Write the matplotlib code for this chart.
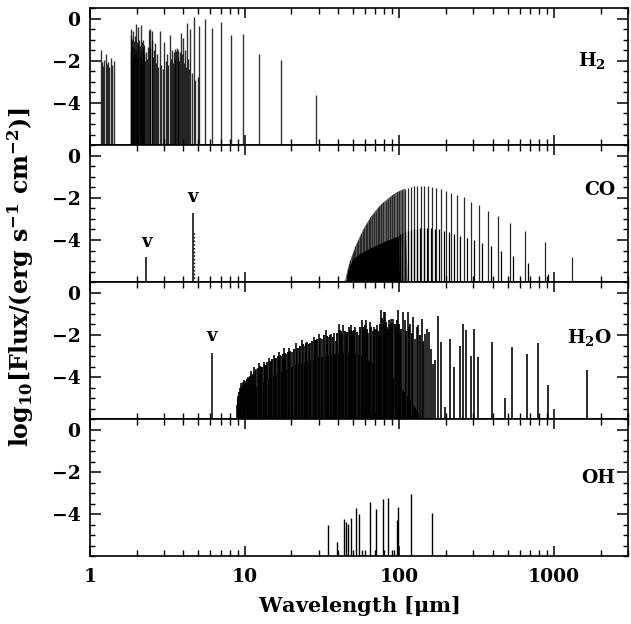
"""Line spectra of H2, CO, H2O and OH: log flux against wavelength."""

import matplotlib
matplotlib.use("Agg")
import matplotlib.pyplot as plt
from matplotlib.ticker import MultipleLocator, LogLocator, NullFormatter

BASE = -6.0

# H2 lines (wavelength um, log10 flux)
h2_wave = [1.17, 1.19, 1.21, 1.23, 1.26, 1.28, 1.31, 1.33, 1.36, 1.39, 1.43,
           1.83, 1.84, 1.85, 1.86, 1.875, 1.89, 1.90, 1.915, 1.93, 1.945, 1.957, 1.97,
           1.985, 2.00, 2.015, 2.03, 2.04, 2.055, 2.07, 2.09, 2.11, 2.125, 2.14, 2.155,
           2.17, 2.19, 2.20, 2.22, 2.24, 2.26, 2.29, 2.32, 2.36, 2.40, 2.43, 2.46, 2.50,
           2.52, 2.56, 2.60, 2.62, 2.66, 2.71, 2.76, 2.82, 2.88,
           2.95, 3.03, 3.08, 3.13, 3.19, 3.27, 3.33, 3.38, 3.43, 3.48, 3.52, 3.56, 3.60,
           3.64, 3.68, 3.73, 3.78, 3.83, 3.89, 3.94, 3.98, 4.04, 4.10, 4.17, 4.23, 4.30,
           4.38, 4.46, 4.55, 4.68, 4.80, 4.97, 5.10, 5.54, 6.14, 7.02, 8.17, 9.78,
           12.4, 17.1, 28.7]
h2_flux = [-1.50, -2.05, -2.26, -1.95, -1.67, -2.15, -2.05, -2.30, -1.86, -2.20, -2.00,
           -0.85, -1.60, -0.49, -1.30, -0.95, -1.80, -0.60, -1.40, -1.05, -1.70, -0.85, -0.28,
           -1.50, -1.10, -1.90, -1.20, -0.40, -1.60, -1.00, -1.80, -1.30, -0.33, -1.50, -1.10,
           -1.90, -1.40, -1.00, -1.70, -1.25, -2.00, -1.60, -1.90, -1.35, -0.55, -0.49, -1.40, -1.00,
           -0.60, -1.80, -1.50, -1.18, -2.10, -1.70, -2.30, -0.60, -2.20,
           -2.40, -1.12, -2.00, -1.70, -2.20, -0.76, -1.90, -1.50, -2.10, -1.60, -1.44, -1.90, -1.55,
           -1.39, -1.80, -1.50, -2.00, -1.60, -0.68, -1.70, -0.92, -2.10, -1.50, -2.30, -0.20, -1.90,
           -2.40, -0.49, -2.60, 0.05, -2.90, -2.77, -0.36, 0.00, -0.45, -0.17, -0.80, -0.73,
           -1.70, -1.98, -3.63]

# 12CO rotational ladder
co_wave = [1300.4, 866.9, 650.2, 520.2, 433.5, 371.5, 325.1, 289.0, 260.1, 236.4,
           216.7, 200.1, 185.8, 173.4, 162.6, 153.0, 144.5, 136.9, 130.0, 123.8,
           118.2, 113.1, 108.4, 104.0, 100.0, 96.3, 92.9, 89.7, 86.7, 83.9,
           81.3, 78.8, 76.5, 74.3, 72.2, 70.3, 68.4, 66.7, 65.0, 63.4,
           61.9, 60.5, 59.1, 57.8, 56.5, 55.3, 54.2, 53.1, 52.0, 51.0,
           50.0, 49.1, 48.2, 47.3, 46.4, 45.6, 44.8]
co_flux = [-4.80, -4.10, -3.55, -3.20, -2.88, -2.60, -2.36, -2.20, -1.98, -1.87,
           -1.78, -1.68, -1.58, -1.52, -1.47, -1.44, -1.43, -1.43, -1.44, -1.46,
           -1.49, -1.52, -1.56, -1.61, -1.67, -1.73, -1.80, -1.88, -1.96, -2.05,
           -2.13, -2.21, -2.30, -2.40, -2.50, -2.60, -2.70, -2.82, -2.93, -3.05,
           -3.17, -3.29, -3.42, -3.55, -3.70, -3.85, -4.00, -4.15, -4.30, -4.45,
           -4.62, -4.78, -4.95, -5.15, -5.35, -5.60, -5.85]

# 13CO ladder (weaker)
co13_wave = [906.8, 680.1, 544.1, 453.4, 388.6, 340.1, 302.3, 272.0, 247.3, 226.7,
             209.3, 194.3, 181.4, 170.0, 160.0, 151.1, 143.2, 136.0, 129.5, 123.7,
             118.3, 113.4, 108.8, 104.6, 100.8, 97.2, 93.8, 90.7, 87.8, 85.0,
             82.4, 80.0, 77.7, 75.6, 73.5, 71.6, 69.8, 68.0, 66.4, 64.8,
             63.3, 61.8, 60.4, 59.1, 57.9, 56.7]
co13_flux = [-5.60, -5.10, -4.75, -4.50, -4.30, -4.15, -4.00, -3.90, -3.80, -3.70,
             -3.62, -3.56, -3.50, -3.47, -3.45, -3.44, -3.44, -3.45, -3.47, -3.50,
             -3.54, -3.56, -3.60, -3.66, -3.72, -3.80, -3.90, -3.96, -4.02, -4.08,
             -4.15, -4.22, -4.30, -4.38, -4.45, -4.55, -4.68, -4.80, -4.92, -5.05,
             -5.18, -5.30, -5.42, -5.55, -5.70, -5.85]

# shaded part of the 12CO dome, where the lines blend
co_shade_wave = [44.8, 46.4, 48.2, 50.0, 52.0, 54.2, 56.5, 59.1, 61.9, 65.0, 68.4,
                 72.2, 76.5, 81.3, 86.7, 92.9, 100.0, 108.4, 113.1]
co_shade_top = [-5.85, -5.35, -4.95, -4.62, -4.30, -4.00, -3.70, -3.42, -3.17, -2.93, -2.70,
                -2.50, -2.30, -2.13, -1.96, -1.80, -1.67, -1.56, -6.0]

# dark core of the CO band
co_core_wave = [44.8, 47.0, 50.0, 55.0, 60.0, 66.0, 73.0, 80.0, 88.0, 94.0, 98.0, 100.0]
co_core_top = [-6.0, -5.3, -4.9, -4.65, -4.5, -4.35, -4.2, -4.05, -3.95, -3.85, -3.85, -6.0]

# CO vibrational lines
co_vib_wave = [2.31, 4.62]
co_vib_flux = [-4.79, -2.72]
co_vib_dot_wave = [4.72]
co_vib_dot_flux = [-3.6]

# H2O lines, strong
h2o_wave = [8.9, 9.1, 9.3, 9.45, 9.7, 9.9, 10.2, 10.45, 10.7, 10.96, 11.3, 11.55, 11.9,
            12.4, 12.8, 13.3, 13.8, 14.3, 14.8, 15.4, 16.0, 16.7, 17.3, 18.0, 18.6, 19.3,
            20.2, 21.3, 22.3, 23.5, 24.4, 25.3, 26.5, 27.9, 29.0, 30.1, 31.5, 33.3, 34.8,
            36.2, 38.0, 39.0, 40.4, 42.0, 43.5, 45.0, 47.0, 48.5, 50.0, 52.0, 54.5, 57.0,
            59.0, 61.0, 63.0, 64.7, 67.0, 69.0, 71.5, 73.5, 75.8, 78.9, 80.9, 83.0, 85.0,
            88.5, 91.5, 94.5, 98.6, 101, 106, 108, 113, 117, 123, 126, 129, 132, 139,
            146, 150, 155, 161, 166, 170, 178, 187, 198, 212, 226, 245, 257, 271, 290,
            303, 322, 398, 483, 538, 669, 790, 918, 1635]
h2o_flux = [-5.30, -4.90, -4.50, -4.30, -4.25, -4.14, -4.20, -3.97, -4.05, -3.73, -3.85, -3.50, -3.60,
            -3.35, -3.50, -3.26, -3.40, -3.10, -3.25, -2.96, -3.10, -2.80, -3.00, -2.64, -2.90, -2.64,
            -2.80, -2.40, -2.60, -2.25, -2.50, -2.33, -2.40, -2.09, -2.30, -1.94, -2.20, -1.78, -2.10,
            -1.94, -1.90, -2.30, -1.46, -1.80, -1.54, -2.00, -1.62, -1.54, -1.90, -1.62, -2.00, -1.31,
            -1.70, -1.31, -1.90, -1.38, -1.80, -1.62, -1.54, -2.00, -0.83, -0.93, -0.91, -1.60, -1.31,
            -1.24, -1.23, -1.60, -0.83, -1.90, -0.91, -1.30, -0.91, -1.48, -1.16, -2.20, -1.64, -1.54, -1.24,
            -1.95, -1.70, -1.86, -2.66, -3.36, -3.20, -1.10, -2.34, -5.40, -2.20, -3.52, -2.50, -1.50, -1.75, -3.00,
            -1.71, -3.05, -2.34, -5.00, -2.58, -2.89, -2.37, -4.39, -3.68]

# H2O lines, weaker ones filling the forest
h2o_weak_wave = [9.0, 9.2, 9.4, 9.6, 9.8, 10.05, 10.3, 10.6, 10.85, 11.1, 11.4, 11.7, 12.1,
                 12.6, 13.0, 13.5, 14.0, 14.5, 15.1, 15.7, 16.3, 17.0, 17.6, 18.3, 19.0,
                 19.7, 20.7, 21.8, 22.9, 23.9, 24.8, 25.9, 27.2, 28.4, 29.5, 30.8, 32.4,
                 34.0, 35.5, 37.1, 39.7, 41.2, 42.7, 44.2, 46.0, 47.7, 49.2, 51.0, 53.2,
                 55.7, 58.0, 60.0, 62.0, 65.8, 68.0, 70.2, 72.5, 74.6, 77.3, 79.9, 82.0,
                 84.0, 86.7, 90.0, 93.0, 96.5, 100, 103, 110, 115, 120, 135, 143]
h2o_weak_flux = [-5.00, -4.70, -4.60, -4.40, -4.35, -4.30, -4.10, -4.15, -3.95, -3.90, -3.75, -3.70, -3.55,
                 -3.45, -3.50, -3.40, -3.30, -3.30, -3.15, -3.10, -3.00, -2.95, -2.90, -2.85, -2.80,
                 -2.75, -2.65, -2.60, -2.50, -2.45, -2.40, -2.45, -2.30, -2.25, -2.20, -2.15, -2.00,
                 -2.05, -2.00, -2.10, -1.90, -1.75, -1.90, -1.80, -1.85, -1.75, -1.80, -1.75, -1.85,
                 -1.60, -1.60, -1.55, -1.70, -1.60, -1.75, -1.70, -1.80, -1.50, -1.20, -1.30, -1.40,
                 -1.70, -1.50, -1.45, -1.50, -1.30, -1.50, -1.70, -1.80, -1.60, -1.90, -2.00, -2.30]

# solid black base of the H2O forest
h2o_fill_wave = [8.8, 9.0, 9.5, 10, 11, 12, 14, 16, 18, 20, 23, 26, 30, 35, 40, 45,
                 50, 55, 60, 70, 80, 90, 100, 110, 120, 130, 140]
h2o_fill_top = [-6.0, -5.6, -5.15, -4.95, -4.7, -4.4, -4.1, -3.85, -3.65, -3.5, -3.3, -3.2,
                -3.05, -2.95, -2.85, -2.8, -2.85, -2.95, -3.1, -3.4, -3.7, -4.0, -4.4, -4.8,
                -5.2, -5.6, -6.0]

h2o_vib_wave = [6.12]
h2o_vib_flux = [-2.85]

# OH lines
oh_wave = [34.4, 39.5, 43.6, 45.2, 46.6, 48.9, 52.7, 55.0, 57.5, 65.0, 70.6, 78.3,
           84.2, 92.0, 96.3, 98.4, 118.6, 162.0]
oh_flux = [-4.52, -5.30, -4.20, -4.36, -4.44, -4.17, -3.70, -3.97, -5.70, -3.42, -3.73, -3.29,
           -3.23, -5.70, -4.28, -3.65, -3.06, -3.93]

panel_names = [r"H$_2$", "CO", r"H$_2$O", "OH"]
x_ticks = [1, 10, 100, 1000]
x_ticklabels = ["1", "10", "100", "1000"]
y_ticks = [-4, -2, 0]
y_ticklabels = ["\u22124", "\u22122", "0"]

plt.rcParams["font.family"] = "DejaVu Serif"
plt.rcParams["font.weight"] = "bold"
plt.rcParams["axes.labelweight"] = "bold"
plt.rcParams["mathtext.fontset"] = "dejavuserif"
plt.rcParams["mathtext.default"] = "bf"

fig, axes = plt.subplots(4, 1, figsize=(6.31, 6.24), dpi=100, sharex=True)
fig.subplots_adjust(left=0.1426, right=0.9952, top=0.9872, bottom=0.1082, hspace=0)

LW = 0.9


def sticks(ax, wave, flux, color="black", lw=LW, alpha=1.0, ls="-", z=2):
    ax.vlines(wave, BASE, flux, colors=color, linewidth=lw, alpha=alpha,
              linestyles=ls, zorder=z)


ax_h2, ax_co, ax_h2o, ax_oh = axes

sticks(ax_h2, h2_wave, h2_flux, alpha=0.8, lw=1.0)

ax_co.fill(co_shade_wave, co_shade_top, facecolor="#6a6a6a", edgecolor="none", zorder=1)
sticks(ax_co, co_wave, co_flux, color="#2a2a2a", lw=0.9, z=1.5)
ax_co.fill_between(co_core_wave, BASE, co_core_top, color="black", lw=0, zorder=1.8)
sticks(ax_co, co13_wave, co13_flux, color="black", lw=0.9)
sticks(ax_co, co_vib_wave, co_vib_flux, lw=1.1)
sticks(ax_co, co_vib_dot_wave, co_vib_dot_flux, lw=1.0, ls=":")
ax_co.text(co_vib_wave[0], co_vib_flux[0] + 0.7, "v", ha="center", va="center", fontsize=13)
ax_co.text(co_vib_wave[1], co_vib_flux[1] + 0.75, "v", ha="center", va="center", fontsize=13)

ax_h2o.fill_between(h2o_fill_wave, BASE, h2o_fill_top, color="black", lw=0, zorder=1)
sticks(ax_h2o, h2o_weak_wave, h2o_weak_flux, color="#151515", lw=1.5, z=1.5)
sticks(ax_h2o, h2o_wave, h2o_flux, alpha=0.9, lw=1.3)
sticks(ax_h2o, h2o_vib_wave, h2o_vib_flux, lw=1.1)
ax_h2o.text(h2o_vib_wave[0], h2o_vib_flux[0] + 0.8, "v", ha="center", va="center", fontsize=13)

sticks(ax_oh, oh_wave, oh_flux, lw=1.0)

label_pos = [(0.933, 0.62), (0.948, 0.67), (0.929, 0.60), (0.945, 0.57)]
for ax, name, (lx, ly) in zip(axes, panel_names, label_pos):
    ax.set_xscale("log")
    ax.set_xlim(1, 3000)
    ax.set_ylim(BASE, 0.5)
    ax.set_yticks(y_ticks)
    ax.set_yticklabels(y_ticklabels)
    ax.yaxis.set_minor_locator(MultipleLocator(0.5))
    ax.xaxis.set_minor_locator(LogLocator(base=10, subs=range(2, 10), numticks=20))
    ax.xaxis.set_minor_formatter(NullFormatter())
    ax.tick_params(which="both", direction="in", top=True, right=True, labelsize=13.5)
    ax.tick_params(axis="y", which="major", length=8, width=1.1, pad=7)
    ax.tick_params(axis="y", which="minor", length=3.5, width=1.0)
    ax.tick_params(axis="x", which="major", length=7, width=1.1, pad=8)
    ax.tick_params(axis="x", which="minor", length=4, width=1.0)
    for s in ax.spines.values():
        s.set_linewidth(1.2)
        s.set_zorder(3)
    ax.text(lx, ly, name, transform=ax.transAxes, ha="center", va="center", fontsize=13.5)

ax_oh.set_xticks(x_ticks)
ax_oh.set_xticklabels(x_ticklabels)
ax_oh.set_xlabel(r"Wavelength [$\mu$m]", fontsize=15, fontweight="bold", labelpad=6)

fig.text(0.033, 0.557, r"log$_{10}$[Flux/(erg s$^{-1}$ cm$^{-2}$)]", rotation=90,
         ha="center", va="center", fontsize=17)

fig.savefig("out.png", dpi=100)
